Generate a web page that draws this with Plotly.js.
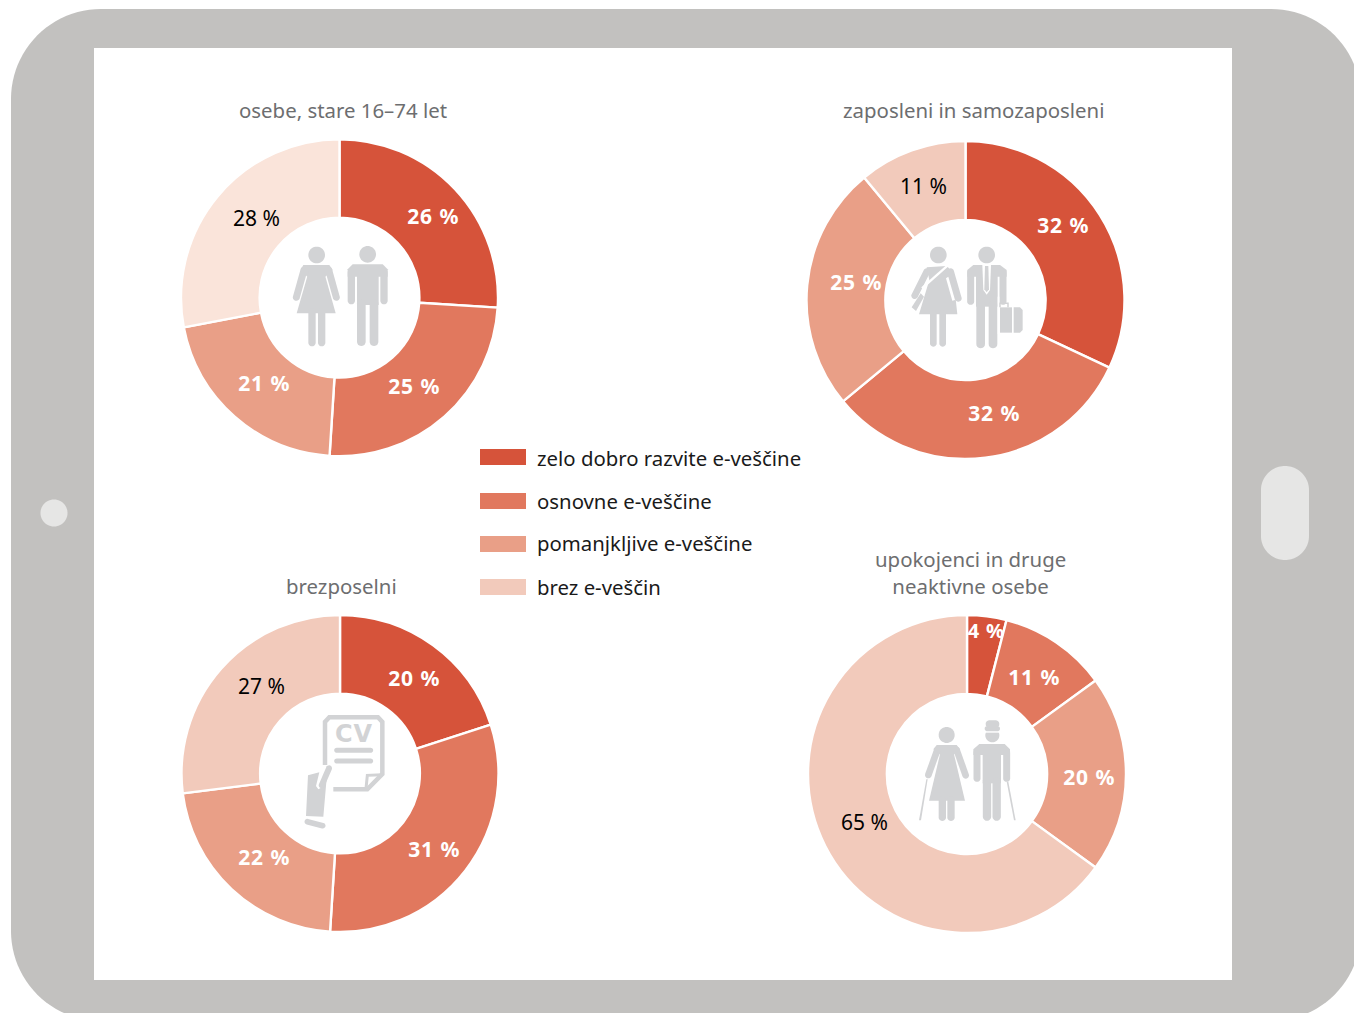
<!DOCTYPE html>
<html>
<head>
<meta charset="utf-8">
<script src="https://cdn.plot.ly/plotly-3.0.1.min.js"></script>
<style>
html,body{margin:0;padding:0;background:#fff}
#chart{width:1354px;height:1013px}
/* Open up the bold percentage labels a little */
#chart .annotation-text tspan[style*="bold"]{letter-spacing:0.9px}
</style>
</head>
<body>
<div id="chart"></div>
<script>
// E-skills by activity status
const categories = ['zelo dobro razvite e-veščine', 'osnovne e-veščine', 'pomanjkljive e-veščine', 'brez e-veščin'];
const panelTitles = ['osebe, stare 16–74 let', 'zaposleni in samozaposleni', 'brezposelni', 'upokojenci in druge<br>neaktivne osebe'];
const osebe = [26, 25, 21, 28];
const zaposleni = [32, 32, 25, 11];
const brezposelni = [20, 31, 22, 27];
const upokojenci = [4, 11, 20, 65];
const palette = ['#d6533a', '#e1785e', '#e99f87', '#f2cabb'];
const paletteFirst = ['#d6533a', '#e1785e', '#e99f87', '#fae4da'];

const W = 1354, H = 1013;
const FONT = '"Noto Sans", sans-serif';
const ICON = '#d2d3d5';
const px = x => x / W;
const py = y => 1 - y / H;

// Page geometry for each donut and its percentage labels
const panels = [
  {values: osebe, colors: paletteFirst, cx: 339.5, cy: 297.7, r: 158.5,
   title: [343, 110], labels: [[433, 216], [414, 386], [264, 383], [256, 218]]},
  {values: zaposleni, colors: palette, cx: 965.5, cy: 300, r: 159,
   title: [973, 110], labels: [[1063, 225], [994, 413], [856, 282], [923, 186]]},
  {values: brezposelni, colors: palette, cx: 340, cy: 773.5, r: 158.5,
   title: [341, 586], labels: [[414, 678], [434, 849], [264, 857], [261, 686]]},
  {values: upokojenci, colors: palette, cx: 967, cy: 774, r: 159,
   title: [970, 572], labels: [[986.5, 630], [1034, 677], [1089, 777], [864, 822]]}
];

const traces = panels.map(p => ({
  type: 'pie',
  values: p.values,
  labels: categories,
  sort: false,
  direction: 'clockwise',
  rotation: 0,
  hole: 0.504,
  textinfo: 'none',
  hoverinfo: 'label+value',
  marker: {colors: p.colors, line: {color: '#ffffff', width: 2.4}},
  domain: {
    x: [px(p.cx - p.r), px(p.cx + p.r)],
    y: [py(p.cy + p.r), py(p.cy - p.r)]
  }
}));

const shapes = [];
const fmt = v => v.toFixed(5);

function pathFrom(points, close) {
  const d = 'M' + points.map(q => fmt(px(q[0])) + ',' + fmt(py(q[1]))).join(' L');
  return close ? d + ' Z' : d;
}
function fillPoly(points, fill, layer) {
  shapes.push({type: 'path', xref: 'paper', yref: 'paper', path: pathFrom(points, true),
    fillcolor: fill, line: {width: 0}, layer: layer || 'above'});
}
// Points along a circular arc, angles in radians on the screen plane
function arcPoints(cx, cy, r, a0, a1, n) {
  const out = [];
  for (let i = 0; i <= n; i++) {
    const a = a0 + (a1 - a0) * i / n;
    out.push([cx + r * Math.cos(a), cy + r * Math.sin(a)]);
  }
  return out;
}

// Small drawing kit for the pictograms; coordinates are local units of 1/3 px from an origin
function pen(ox, oy) {
  const L = q => [ox + q[0] / 3, oy + q[1] / 3];
  return {
    poly(pts, color) { fillPoly(pts.map(L), color || ICON); },
    capsule(a, b, w, color) {
      const A = L(a), B = L(b), r = w / 6;
      const t = Math.atan2(B[1] - A[1], B[0] - A[0]);
      const pts = arcPoints(B[0], B[1], r, t - Math.PI / 2, t + Math.PI / 2, 10)
        .concat(arcPoints(A[0], A[1], r, t + Math.PI / 2, t + 3 * Math.PI / 2, 10));
      fillPoly(pts, color || ICON);
    },
    circle(c, r, color) {
      const C = L(c);
      fillPoly(arcPoints(C[0], C[1], r / 3, 0, 2 * Math.PI, 40), color || ICON);
    },
    stroke(pts, w, color) {
      shapes.push({type: 'path', xref: 'paper', yref: 'paper', layer: 'above',
        path: pathFrom(pts.map(L), false),
        fillcolor: 'rgba(0,0,0,0)', line: {color: color || ICON, width: w}});
    }
  };
}

// Tablet frame
function roundRect(l, t, r, b, rad, fill) {
  const n = 24, q = Math.PI / 2;
  const pts = arcPoints(r - rad, t + rad, rad, -q, 0, n)
    .concat(arcPoints(r - rad, b - rad, rad, 0, q, n))
    .concat(arcPoints(l + rad, b - rad, rad, q, 2 * q, n))
    .concat(arcPoints(l + rad, t + rad, rad, 2 * q, 3 * q, n));
  fillPoly(pts, fill, 'below');
}
roundRect(11, 9, 1361, 1021, 90, '#c2c1bf');
roundRect(94, 48, 1232, 980, 0.01, '#ffffff');
roundRect(1261, 466, 1309, 560, 24, '#e6e6e5');
roundRect(40.5, 499.5, 67.5, 526.5, 13.5, '#e6e6e5');

// Legend swatches
[449, 493, 536, 579].forEach((top, i) => {
  shapes.push({type: 'rect', xref: 'paper', yref: 'paper', layer: 'above',
    x0: px(480), x1: px(526), y0: py(top), y1: py(top + 16),
    fillcolor: palette[i], line: {width: 0}});
});

// Pictogram: woman and man
(function () {
  const k = pen(170, 90);
  k.circle([440, 495], 25); k.circle([593, 493], 25);
  k.capsule([402, 540], [379, 622], 21); k.capsule([476, 540], [499, 622], 21);
  k.poly([[400, 525], [478, 525], [488, 540], [466, 560], [412, 560], [392, 540]]);
  k.poly([[416, 545], [462, 545], [497, 670], [380, 670]]);
  k.capsule([426, 665], [426, 758], 22); k.capsule([455, 665], [455, 758], 22);
  k.capsule([544, 548], [544, 632], 22); k.capsule([642, 548], [642, 632], 22);
  k.poly([[548, 523], [638, 523], [653, 538], [653, 560], [533, 560], [533, 538]]);
  k.poly([[561, 555], [626, 555], [626, 645], [561, 645]]);
  k.capsule([574, 640], [574, 755], 26); k.capsule([612, 640], [612, 755], 26);
})();

// Pictogram: employed woman with bag, man with briefcase
(function () {
  const k = pen(880, 230);
  k.circle([175, 75], 25); k.circle([320, 75], 25);
  k.capsule([140, 125], [104, 197], 20); k.capsule([212, 125], [235, 205], 20);
  k.poly([[140, 112], [200, 108], [218, 125], [232, 253], [117, 253], [148, 150]]);
  k.poly([[205, 140], [225, 210], [217, 212], [198, 145]], '#ffffff');
  k.poly([[209, 106], [128, 178], [124, 172], [203, 102]], '#ffffff');
  k.poly([[122, 190], [132, 200], [108, 243], [95, 232]]);
  k.capsule([160, 250], [160, 340], 20); k.capsule([188, 250], [188, 340], 20);
  k.capsule([272, 128], [272, 214], 21); k.capsule([369, 128], [369, 214], 21);
  k.poly([[280, 105], [360, 105], [380, 120], [380, 140], [262, 140], [262, 120]]);
  k.poly([[288, 135], [353, 135], [353, 230], [288, 230]]);
  k.capsule([302, 225], [302, 342], 26); k.capsule([339, 225], [339, 342], 26);
  k.poly([[307, 105], [333, 105], [330, 180], [320, 194], [310, 180]], '#ffffff');
  k.poly([[315, 108], [325, 108], [327, 178], [320, 187], [313, 178]]);
  k.poly([[353, 200], [358, 200], [358, 312], [353, 312]], '#ffffff');
  k.stroke([[360, 232], [360, 220], [384, 220], [384, 232]], 1.5);
  k.poly([[360, 232], [396, 232], [396, 308], [360, 308]]);
  k.poly([[401, 232], [420, 232], [428, 240], [428, 300], [420, 308], [401, 308]]);
})();

// Pictogram: hand holding a CV
(function () {
  const k = pen(280, 700);
  k.stroke([[135, 195], [135, 66], [148, 52], [294, 52], [307, 66], [307, 222], [262, 268], [160, 268]], 4.5);
  k.stroke([[307, 224], [262, 226], [258, 266]], 3);
  k.capsule([170, 151], [272, 151], 15); k.capsule([170, 183], [272, 183], 15);
  k.poly([[84, 226], [118, 217], [108, 258], [115, 268], [126, 262], [140, 235], [130, 350], [78, 348]]);
  k.capsule([147, 205], [125, 256], 18);
  k.capsule([82, 365], [128, 377], 17);
})();

// Pictogram: pensioners with walking canes
(function () {
  const k = pen(900, 700);
  k.circle([140, 105], 24);
  k.capsule([112, 150], [85, 225], 20); k.capsule([170, 150], [197, 226], 20);
  k.poly([[110, 135], [170, 135], [180, 148], [160, 165], [122, 165], [100, 148]]);
  k.poly([[123, 150], [159, 150], [195, 302], [87, 302]]);
  k.capsule([127, 300], [127, 352], 22); k.capsule([153, 300], [153, 352], 22);
  k.poly([[79, 238], [83, 238], [63, 361], [57, 361]]);
  k.circle([277, 106], 21);
  k.poly([[250, 92], [305, 92], [305, 98], [250, 98]], '#ffffff');
  k.capsule([262, 86], [292, 86], 16);
  k.capsule([268, 72], [287, 72], 22);
  k.capsule([231, 158], [231, 235], 21); k.capsule([320, 158], [320, 235], 21);
  k.poly([[238, 132], [314, 132], [330, 148], [330, 165], [220, 165], [220, 148]]);
  k.poly([[248, 160], [303, 160], [303, 250], [248, 250]]);
  k.capsule([261, 245], [261, 350], 25); k.capsule([290, 245], [290, 350], 25);
  k.poly([[320, 245], [325, 245], [347, 361], [342, 361]]);
})();

// Text annotations
const annotations = [];
function addText(text, x, y, size, color, bold, anchor, family) {
  annotations.push({
    xref: 'paper', yref: 'paper', x: px(x), y: py(y), text: bold ? '<b>' + text + '</b>' : text,
    showarrow: false, xanchor: anchor || 'center', yanchor: 'middle', borderpad: 0, borderwidth: 0,
    font: {family: family || FONT, size: size, color: color}
  });
}
panels.forEach((p, i) => {
  addText(panelTitles[i], p.title[0], p.title[1], 20.4, '#6d6e70', false);
  p.values.forEach((v, j) => {
    const plain = j === 3;
    const size = plain ? 21 : (v < 10 ? 20 : 21);
    addText(v + ' %', p.labels[j][0], p.labels[j][1], size, plain ? '#000000' : '#ffffff', !plain);
  });
});
categories.forEach((c, i) => addText(c, 537, [458, 500.5, 543, 587][i], 20.35, '#1a1a1a', false, 'left'));
annotations.push({xref: 'paper', yref: 'paper', x: px(354), y: py(734), text: '<b>CV</b>', showarrow: false,
  xanchor: 'center', yanchor: 'middle', font: {family: '"DejaVu Sans", sans-serif', size: 24, color: ICON}});

Plotly.newPlot('chart', traces, {
  width: W, height: H,
  margin: {l: 0, r: 0, t: 0, b: 0, pad: 0},
  paper_bgcolor: '#ffffff',
  plot_bgcolor: 'rgba(0,0,0,0)',
  showlegend: false,
  shapes: shapes,
  annotations: annotations
}, {displayModeBar: false, staticPlot: true});
</script>
</body>
</html>
